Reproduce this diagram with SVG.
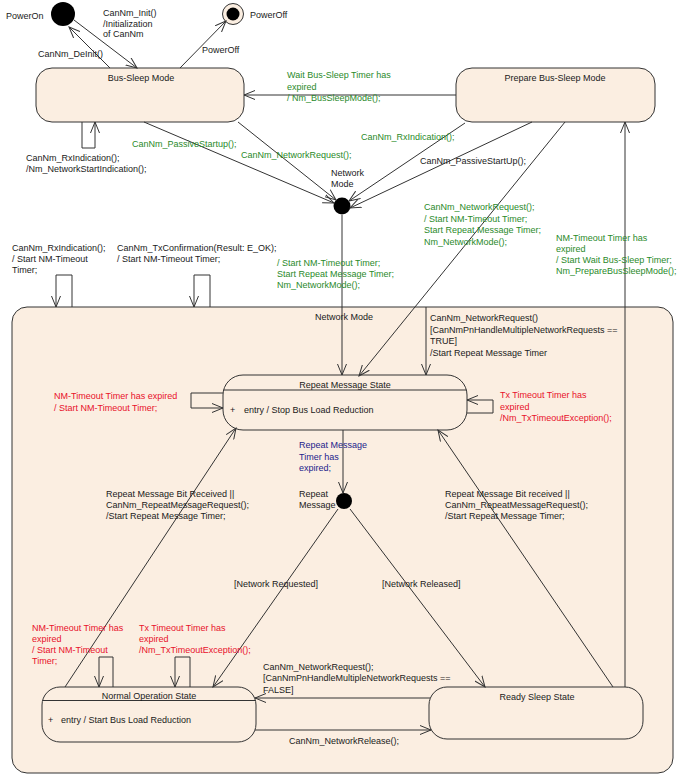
<svg xmlns="http://www.w3.org/2000/svg" width="681" height="778" viewBox="0 0 681 778">
<defs>
<marker id="arr" markerUnits="userSpaceOnUse" markerWidth="12" markerHeight="10" refX="11" refY="5" orient="auto">
<path d="M0,0.5 L11,5 L0,9.5" fill="none" stroke="#333" stroke-width="1"/>
</marker>
</defs>
<style>
text{font-family:"Liberation Sans",Arial,sans-serif;font-size:9px;fill:#1a1a1a}
.g{fill:#2a8a2a}
.r{fill:#e8102a}
.b{fill:#1c1c8c}
.st{fill:#fbeee1;stroke:#333;stroke-width:1}
.c{fill:none;stroke:#333;stroke-width:1;marker-end:url(#arr)}
.ln{fill:none;stroke:#333;stroke-width:1}
.m{text-anchor:middle}
</style>
<rect width="681" height="778" fill="#ffffff"/>

<g id="network-mode">
<rect class="st" x="12" y="307" width="661" height="466" rx="15"/>
<text x="315" y="320">Network Mode</text>
</g>

<g id="poweron">
<circle cx="63" cy="14" r="12" fill="#000"/>
<text x="6" y="19">PowerOn</text>
</g>
<g id="poweroff">
<circle cx="233" cy="14" r="10.5" fill="#fbeee1" stroke="#333"/>
<circle cx="233" cy="14" r="6.5" fill="#000"/>
<text x="250" y="18">PowerOff</text>
</g>

<g id="bus-sleep">
<rect class="st" x="36" y="68" width="208" height="54" rx="16"/>
<text class="m" x="141" y="81">Bus-Sleep Mode</text>
</g>
<g id="prepare-bus-sleep">
<rect class="st" x="456" y="68" width="199" height="54" rx="16"/>
<text class="m" x="555" y="81">Prepare Bus-Sleep Mode</text>
</g>

<g id="network-mode-pseudo">
<circle cx="342" cy="206" r="8.5" fill="#000"/>
<text x="331" y="176">Network</text>
<text x="331" y="187">Mode</text>
</g>

<g id="repeat-message-state">
<rect class="st" x="223" y="375" width="244" height="55" rx="20"/>
<line class="ln" x1="223.5" y1="390" x2="466.5" y2="390"/>
<text class="m" x="345" y="388">Repeat Message State</text>
<text x="230" y="413">+</text>
<text x="244" y="413">entry / Stop Bus Load Reduction</text>
</g>

<g id="repeat-message-pseudo">
<circle cx="344" cy="501" r="8" fill="#000"/>
<text x="299" y="497">Repeat</text>
<text x="299" y="508">Message</text>
</g>

<g id="normal-operation-state">
<rect class="st" x="42" y="687" width="214" height="55" rx="18"/>
<line class="ln" x1="42.5" y1="700.5" x2="255.5" y2="700.5"/>
<text class="m" x="149" y="699">Normal Operation State</text>
<text x="48" y="723">+</text>
<text x="61" y="723">entry / Start Bus Load Reduction</text>
</g>

<g id="ready-sleep-state">
<rect class="st" x="429" y="687" width="214" height="52" rx="18"/>
<text class="m" x="537" y="700">Ready Sleep State</text>
</g>

<g id="connectors">
<line class="c" x1="74" y1="20" x2="137" y2="68"/>
<line class="c" x1="110" y1="68" x2="69" y2="27"/>
<line class="c" x1="180" y1="68" x2="226" y2="21"/>
<path class="c" d="M82,122 V148 H95 V122"/>
<line class="c" x1="456" y1="95" x2="244" y2="95"/>
<line class="c" x1="144" y1="122" x2="334" y2="203"/>
<line class="c" x1="238" y1="122" x2="336" y2="200"/>
<line class="c" x1="465" y1="123" x2="349" y2="201"/>
<line class="c" x1="532" y1="122" x2="350" y2="208"/>
<line class="c" x1="565" y1="122" x2="359" y2="376"/>
<line class="c" x1="342" y1="215" x2="342" y2="375"/>
<line class="c" x1="625" y1="687" x2="625" y2="122"/>
<line class="c" x1="426" y1="307" x2="426" y2="375"/>
<path class="c" d="M72,307 V275 H56 V307"/>
<path class="c" d="M210,307 V275 H194 V307"/>
<path class="c" d="M223,393 H191 V408 H223"/>
<path class="c" d="M467,413 H493 V400 H467"/>
<line class="c" x1="343" y1="430" x2="343" y2="493"/>
<line class="c" x1="338" y1="509" x2="213" y2="687"/>
<line class="c" x1="350" y1="509" x2="485" y2="687"/>
<line class="c" x1="65" y1="687" x2="236" y2="428"/>
<line class="c" x1="613" y1="687" x2="438" y2="430"/>
<path class="c" d="M113,687 V657 H99 V687"/>
<path class="c" d="M190,687 V657 H175 V687"/>
<line class="c" x1="430" y1="698" x2="255" y2="698"/>
<line class="c" x1="255" y1="730" x2="431" y2="730"/>
</g>

<g id="labels">
<text x="103" y="16">CanNm_Init()</text>
<text x="103" y="27">/Initialization</text>
<text x="103" y="37">of CanNm</text>
<text x="38" y="57">CanNm_DeInit()</text>
<text x="202" y="53">PowerOff</text>
<text x="26" y="161">CanNm_RxIndication();</text>
<text x="26" y="172">/Nm_NetworkStartIndication();</text>
<text class="g" x="132" y="147">CanNm_PassiveStartup();</text>
<text class="g" x="241" y="158">CanNm_NetworkRequest();</text>
<text class="g" x="287" y="78">Wait Bus-Sleep Timer has</text>
<text class="g" x="287" y="90">expired</text>
<text class="g" x="287" y="101">/ Nm_BusSleepMode();</text>
<text class="g" x="361" y="140">CanNm_RxIndication();</text>
<text x="420" y="164">CanNm_PassiveStartUp();</text>
<text class="g" x="424" y="210">CanNm_NetworkRequest();</text>
<text class="g" x="424" y="221.5">/ Start NM-Timeout Timer;</text>
<text class="g" x="424" y="233">Start Repeat Message Timer;</text>
<text class="g" x="424" y="244.5">Nm_NetworkMode();</text>
<text class="g" x="556" y="241">NM-Timeout Timer has</text>
<text class="g" x="556" y="252">expired</text>
<text class="g" x="556" y="263">/ Start Wait Bus-Sleep Timer;</text>
<text class="g" x="556" y="274">Nm_PrepareBusSleepMode();</text>
<text x="12" y="251">CanNm_RxIndication();</text>
<text x="12" y="262">/ Start NM-Timeout</text>
<text x="12" y="273">Timer;</text>
<text x="117" y="251">CanNm_TxConfirmation(Result: E_OK);</text>
<text x="117" y="262">/ Start NM-Timeout Timer;</text>
<text class="g" x="277" y="266">/ Start NM-Timeout Timer;</text>
<text class="g" x="277" y="277">Start Repeat Message Timer;</text>
<text class="g" x="277" y="288">Nm_NetworkMode();</text>
<text x="430" y="321">CanNm_NetworkRequest()</text>
<text x="430" y="332.5">[CanNmPnHandleMultipleNetworkRequests ==</text>
<text x="430" y="344">TRUE]</text>
<text x="430" y="355.5">/Start Repeat Message Timer</text>
<text class="r" x="54" y="399">NM-Timeout Timer has expired</text>
<text class="r" x="54" y="411">/ Start NM-Timeout Timer;</text>
<text class="r" x="500" y="398">Tx Timeout Timer has</text>
<text class="r" x="500" y="410">expired</text>
<text class="r" x="500" y="421">/Nm_TxTimeoutException();</text>
<text class="b" x="299" y="448">Repeat Message</text>
<text class="b" x="299" y="460">Timer has</text>
<text class="b" x="299" y="471">expired;</text>
<text x="106" y="497">Repeat Message Bit Received ||</text>
<text x="106" y="508">CanNm_RepeatMessageRequest();</text>
<text x="106" y="519">/Start Repeat Message Timer;</text>
<text x="445" y="497">Repeat Message Bit received ||</text>
<text x="445" y="508">CanNm_RepeatMessageRequest();</text>
<text x="445" y="519">/Start Repeat Message Timer;</text>
<text x="234" y="587">[Network Requested]</text>
<text x="382" y="587">[Network Released]</text>
<text class="r" x="32" y="631">NM-Timeout Timer has</text>
<text class="r" x="32" y="642">expired</text>
<text class="r" x="32" y="653">/ Start NM-Timeout</text>
<text class="r" x="32" y="664">Timer;</text>
<text class="r" x="139" y="631">Tx Timeout Timer has</text>
<text class="r" x="139" y="642">expired</text>
<text class="r" x="139" y="653">/Nm_TxTimeoutException();</text>
<text x="263" y="670">CanNm_NetworkRequest();</text>
<text x="263" y="681">[CanNmPnHandleMultipleNetworkRequests ==</text>
<text x="263" y="693">FALSE]</text>
<text x="289" y="744">CanNm_NetworkRelease();</text>
</g>
</svg>
